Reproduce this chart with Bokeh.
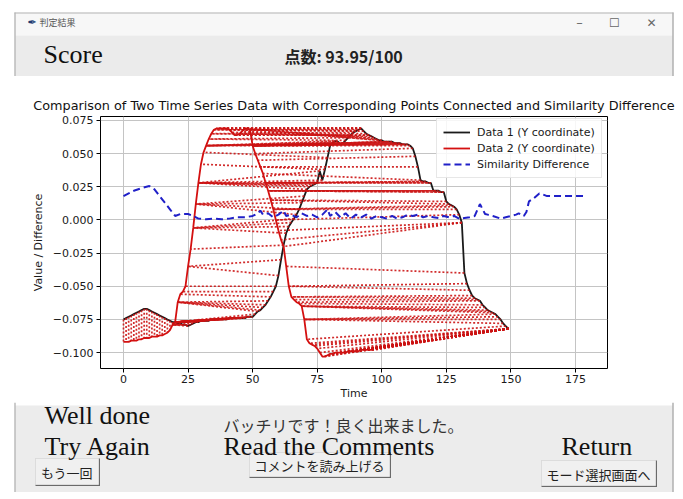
import numpy as np
from bokeh.plotting import figure
from bokeh.layouts import column
from bokeh.models import FixedTicker, CustomJSTickFormatter
from bokeh.core.properties import value
from bokeh.embed import file_html
from bokeh.resources import INLINE

# ---------------- data ----------------
# Data 1 (black), one value per time step t = 0..149
data1 = [
    -0.075, -0.074, -0.073, -0.072, -0.071, -0.070, -0.069, -0.068, -0.067, -0.067,
    -0.068, -0.069, -0.070, -0.071, -0.072, -0.073, -0.074, -0.075, -0.076, -0.077,
    -0.077, -0.078, -0.078, -0.079, -0.079, -0.080, -0.079, -0.078, -0.077, -0.077,
    -0.076, -0.076, -0.076, -0.076, -0.075, -0.075, -0.075, -0.075, -0.075, -0.075,
    -0.075, -0.074, -0.074, -0.074, -0.074, -0.074, -0.074, -0.074, -0.073, -0.073,
    -0.073, -0.071, -0.069, -0.068, -0.066, -0.064, -0.061, -0.058, -0.054, -0.050,
    -0.042, -0.030, -0.019, -0.010, -0.005, -0.002, 0.001, 0.004, 0.008, 0.013,
    0.018, 0.023, 0.025, 0.026, 0.027, 0.028, 0.037, 0.030, 0.038, 0.047,
    0.056, 0.058, 0.0595, 0.059, 0.057, 0.058, 0.060, 0.062, 0.064, 0.066,
    0.067, 0.068, 0.069, 0.067, 0.065, 0.064, 0.063, 0.062, 0.061, 0.060,
    0.060, 0.059, 0.059, 0.059, 0.059, 0.058, 0.058, 0.058, 0.057, 0.057,
    0.057, 0.056, 0.054, 0.048, 0.040, 0.030, 0.029, 0.029, 0.028, 0.028,
    0.022, 0.022, 0.022, 0.021, 0.021, 0.014, 0.012, 0.011, 0.010, 0.008,
    0.004, -0.002, -0.040, -0.048, -0.053, -0.057, -0.059, -0.060, -0.061, -0.064,
    -0.066, -0.068, -0.069, -0.070, -0.071, -0.073, -0.075, -0.078, -0.080, -0.082,
]
# Data 2 (red), one value per time step t = 0..97
data2 = [
    -0.092, -0.092, -0.092, -0.091, -0.091, -0.091, -0.090, -0.090, -0.089, -0.089,
    -0.089, -0.088, -0.088, -0.088, -0.087, -0.087, -0.086, -0.085, -0.083, -0.079,
    -0.077, -0.062, -0.056, -0.054, -0.050, -0.035, -0.022, -0.006, 0.012, 0.028,
    0.042, 0.051, 0.056, 0.061, 0.065, 0.068, 0.069, 0.069, 0.069, 0.069,
    0.069, 0.068, 0.066, 0.064, 0.064, 0.065, 0.067, 0.069, 0.069, 0.068,
    0.056, 0.050, 0.045, 0.040, 0.035, 0.028, 0.022, 0.015, 0.008, 0.000,
    -0.008, -0.015, -0.020, -0.035, -0.050, -0.058, -0.060, -0.062, -0.063, -0.065,
    -0.075, -0.090, -0.093, -0.094, -0.095, -0.097, -0.100, -0.103, -0.103, -0.102,
    -0.101, -0.101, -0.100, -0.100, -0.100, -0.100, -0.100, -0.099, -0.099, -0.099,
    -0.099, -0.099, -0.098, -0.098, -0.098, -0.098, -0.098, -0.098,
]
# Similarity difference (blue dashed) along the matching path
sim_k = [0, 2, 4, 7, 10, 12, 14, 16, 18, 20, 22, 25, 27, 29, 32, 35, 38, 41, 44, 47,
         50, 52, 53, 54, 56, 58, 60, 62, 63, 65, 67, 69, 71, 73, 75, 77, 79, 80, 82, 84,
         86, 88, 90, 92, 94, 96, 98, 100, 102, 104, 106, 108, 110, 112, 114, 116, 118, 120,
         122, 124, 126, 128, 130, 132, 134, 136, 138, 140, 141, 143, 146, 148, 150, 152,
         153, 155, 156, 157, 159, 161, 162, 164, 168, 178]
sim_v = [0.018, 0.020, 0.022, 0.024, 0.0256, 0.023, 0.018, 0.013, 0.008, 0.003,
         0.0045, 0.0045, 0.003, 0.001, 0.0005, 0.001, 0.0005, 0.001, 0.002, 0.002,
         0.003, 0.005, 0.007, 0.004, 0.005, 0.002, 0.004, 0.007, 0.003, 0.004,
         0.002, 0.005, 0.003, 0.004, 0.002, 0.004, 0.008, 0.003, 0.006, 0.002,
         0.005, 0.001, 0.004, 0.002, 0.004, 0.001, 0.003, 0.002, 0.001, 0.003,
         0.001, 0.002, 0.004, 0.003, 0.004, 0.002, 0.003, 0.002,
         0.0015, 0.003, 0.002, 0.003, 0.001, 0.0015, 0.002, 0.003, 0.012, 0.0045,
         0.004, 0.003, 0.001, 0.002, 0.003, 0.004,
         0.005, 0.003, 0.006, 0.014, 0.0166, 0.020, 0.0195, 0.018, 0.018, 0.018]

x_ticks = [0, 25, 50, 75, 100, 125, 150, 175]
y_ticks = [-0.1, -0.075, -0.05, -0.025, 0.0, 0.025, 0.05, 0.075]

chart_title = ("Comparison of Two Time Series Data with Corresponding Points "
               "Connected and Similarity Difference")
window_title = "判定結果"
score_caption = "Score"
score_text = "点数: 93.95/100"
comment_text = "バッチリです！良く出来ました。"
caption_texts = ["Well done", "Try Again", "Read the Comments", "Return"]
button_texts = ["もう一回", "コメントを読み上げる", "モード選択画面へ"]

# ---------------- corresponding points (dynamic time warping) ----------------
a = np.array(data1)
b = np.array(data2)
t1 = np.arange(len(a))
t2 = np.arange(len(b))
n, m = len(a), len(b)
D = np.full((n + 1, m + 1), np.inf)
D[0, 0] = 0.0
for i in range(1, n + 1):
    ci = np.abs(a[i - 1] - b)
    for j in range(1, m + 1):
        D[i, j] = ci[j - 1] + min(D[i - 1, j], D[i, j - 1], D[i - 1, j - 1])
i, j = n, m
path = [(i - 1, j - 1)]
while i > 1 or j > 1:
    if i == 1:
        j -= 1
    elif j == 1:
        i -= 1
    else:
        k = int(np.argmin([D[i - 1, j - 1], D[i - 1, j], D[i, j - 1]]))
        if k == 0:
            i -= 1; j -= 1
        elif k == 1:
            i -= 1
        else:
            j -= 1
    path.append((i - 1, j - 1))
path.reverse()
pi = np.array([q[0] for q in path])
pj = np.array([q[1] for q in path])

W = 675
FONT = "DejaVu Sans"
SERIF = "Liberation Serif"
CJK = "Noto Sans CJK JP"


def chrome(height):
    f = figure(width=W, height=height, output_backend="svg", toolbar_location=None,
               x_range=(0, W), y_range=(height, 0), min_border=0,
               min_border_left=0, min_border_right=0, min_border_top=0,
               min_border_bottom=0, x_axis_location=None, y_axis_location=None)
    f.frame_align = False
    f.grid.visible = False
    f.outline_line_color = None
    f.border_fill_color = "white"
    f.background_fill_color = "white"
    return f


def txt(f, x, y, s, size, font=FONT, color="#111111", align="left", style="normal"):
    f.text(x=[x], y=[y], text=[s], text_font=value(font), text_font_size=value(size),
           text_color=color, text_align=align, text_baseline="middle",
           text_font_style=style)


# ---------------- header (window title bar + score) ----------------
HH = 76
top = chrome(HH)
top.quad(left=[15, 15], right=[672, 672], top=[12, 35], bottom=[35, HH],
         fill_color=["#f7f7f7", "#ebebeb"], line_color=None)
top.quad(left=[14, 672, 14], right=[15, 673, 673], top=[12, 12, 12], bottom=[HH, HH, 13],
         fill_color=["#9a9a9a", "#8a8a8a", "#b4b4b4"], line_color=None)
txt(top, 27, 22, "✒", "11px", color="#203a70")
txt(top, 39, 22, window_title, "9px", font=CJK, color="#555555")
txt(top, 579, 22, "–", "13px", color="#666666", align="center")
txt(top, 614, 22, "☐", "12px", color="#666666", align="center")
txt(top, 651, 22, "✕", "12px", color="#666666", align="center")
txt(top, 43, 54, score_caption, "26px", font=SERIF)
txt(top, 284, 55, score_text, "16px", font=CJK, color="#222222", style="bold")

# ---------------- main chart ----------------
p = figure(frame_width=507, frame_height=252, output_backend="svg", toolbar_location=None,
           x_range=(-8.9, 187.4), y_range=(-0.112, 0.078),
           min_border_left=100, min_border_right=68, min_border_top=40,
           min_border_bottom=33)
p.frame_align = False
p.border_fill_color = "white"
p.background_fill_color = "white"
p.outline_line_color = "black"
p.outline_line_width = 1
p.title.text = chart_title
p.title.align = "center"
p.title.text_font = FONT
p.title.text_font_size = "12.8px"
p.title.text_font_style = "normal"
p.title.text_color = "#111111"
p.title.standoff = 8

for ax in (p.xaxis[0], p.yaxis[0]):
    ax.axis_line_color = None
    ax.major_tick_out = 4
    ax.major_tick_in = 0
    ax.minor_tick_out = 0
    ax.minor_tick_in = 0
    ax.major_tick_line_color = "black"
    ax.major_label_text_font = FONT
    ax.major_label_text_font_size = "11px"
    ax.major_label_text_color = "#1a1a1a"
    ax.axis_label_text_font = FONT
    ax.axis_label_text_font_size = "11px"
    ax.axis_label_text_font_style = "normal"
    ax.axis_label_text_color = "#1a1a1a"
p.xaxis.ticker = FixedTicker(ticks=x_ticks)
p.yaxis.ticker = FixedTicker(ticks=y_ticks)
p.yaxis.formatter = CustomJSTickFormatter(
    code="return (tick < -1e-12 ? '\\u2212' : '') + Math.abs(tick).toFixed(3);")
p.xaxis.axis_label = "Time"
p.yaxis.axis_label = "Value / Difference"
p.xaxis.axis_label_standoff = 1
p.yaxis.major_label_standoff = 3
p.xaxis.major_label_standoff = 2
p.grid.grid_line_color = "#c4c4c4"
p.grid.grid_line_width = 1

p.line(t1, a, line_color="#1a1a1a", line_width=1.8, legend_label="Data 1 (Y coordinate)")
p.line(t2, b, line_color="#d41010", line_width=1.8, legend_label="Data 2 (Y coordinate)")
p.segment(x0=t1[pi], y0=a[pi], x1=t2[pj], y1=b[pj],
          line_color="#cc1414", line_width=1.7, line_dash="2 2", line_alpha=0.9)
p.line(sim_k, sim_v, line_color="#2020c8", line_width=2, line_dash="7 4",
       legend_label="Similarity Difference")

lg = p.legend[0]
lg.location = (336, 190)
lg.label_text_font = FONT
lg.label_text_font_size = "11px"
lg.label_text_color = "#1a1a1a"
lg.label_height = 14
lg.glyph_height = 14
lg.glyph_width = 27
lg.label_standoff = 7
lg.spacing = 2
lg.padding = 6
lg.margin = 0
lg.border_line_color = "#cfcfcf"
lg.background_fill_alpha = 0.85

# ---------------- bottom (comments + buttons) ----------------
BH = 90
bot = chrome(BH)
bot.quad(left=[15], right=[672], top=[3], bottom=[BH], fill_color="#ececec", line_color=None)
bot.quad(left=[14, 672], right=[15, 673], top=[0, 0], bottom=[BH, BH],
         fill_color=["#9a9a9a", "#8a8a8a"], line_color=None)
btn_l = [35, 249, 541]
btn_r = [98, 389, 655]
btn_t = [56, 50, 58]
btn_b = [82, 74, 83]
bot.quad(left=btn_l, right=[r + 1.5 for r in btn_r], top=btn_t,
         bottom=[v + 1.5 for v in btn_b], fill_color="#6a6a6a", line_color=None)
bot.quad(left=btn_l, right=btn_r, top=btn_t, bottom=btn_b,
         fill_color="#f0f0f0", line_color="#dcdcdc", line_width=1)
for l_, r_, t_, b_, s in zip(btn_l, btn_r, btn_t, btn_b, button_texts):
    txt(bot, (l_ + r_) / 2, (t_ + b_) / 2 + 1, s, "13px", font=CJK,
        color="#222222", align="center")

txt(bot, 44, 13, caption_texts[0], "26px", font=SERIF)
txt(bot, 223, 22, comment_text, "16px", font=CJK, color="#333333")
txt(bot, 44, 44, caption_texts[1], "26px", font=SERIF)
txt(bot, 223, 44, caption_texts[2], "26px", font=SERIF)
txt(bot, 561, 44, caption_texts[3], "26px", font=SERIF)

page = column(top, p, bot, spacing=0)
open("out.html", "w").write(file_html(page, INLINE))
